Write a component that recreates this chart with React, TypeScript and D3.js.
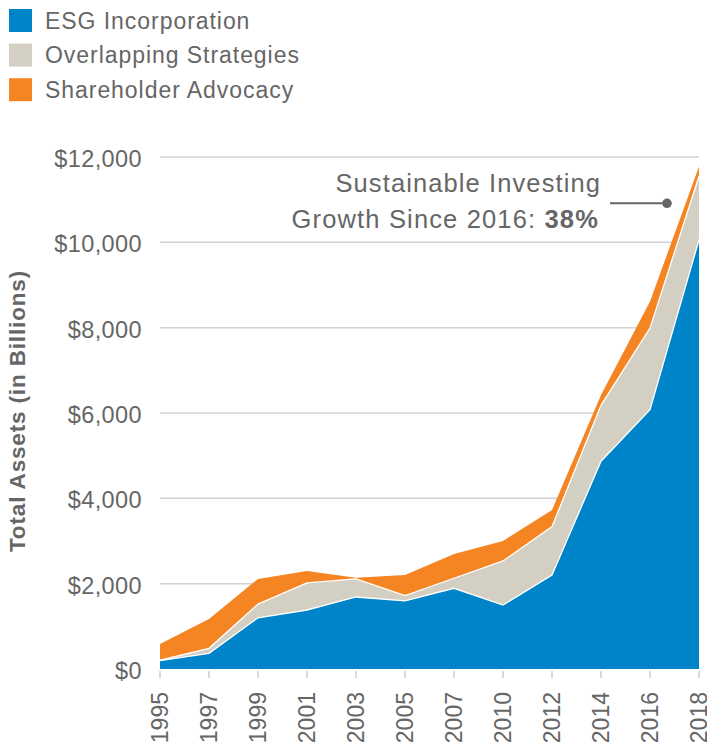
import React from "react";
import * as d3 from "d3";

const years = ["1995","1997","1999","2001","2003","2005","2007","2010","2012","2014","2016","2018"];
const esgIncorporation = [195, 367, 1200, 1383, 1688, 1595, 1892, 1500, 2204, 4870, 6080, 10060];
const overlappingStrategies = [10, 118, 320, 634, 422, 124, 235, 1032, 1133, 1310, 1910, 1490];
const shareholderAdvocacy = [381, 687, 590, 281, 30, 485, 570, 469, 392, 240, 624, 230];
const yTicks = [0, 2000, 4000, 6000, 8000, 10000, 12000];
const seriesNames = ["ESG Incorporation", "Overlapping Strategies", "Shareholder Advocacy"];
const seriesColors = ["#0084C9", "#D3CFC3", "#F58423"];

const W = 707, H = 749;
const FONT = "'Liberation Sans', Arial, Helvetica, sans-serif";
const TXT = "#666666";

export default function App() {
  const x = d3.scalePoint<string>().domain(years).range([160, 699]);
  const y = d3.scaleLinear().domain([0, 12000]).range([669, 157]);

  const keys = ["esg", "overlap", "advocacy"];
  const rows = years.map((yr, i) => ({
    year: yr,
    esg: esgIncorporation[i],
    overlap: overlappingStrategies[i],
    advocacy: shareholderAdvocacy[i],
  }));
  const stacked = d3.stack<any>().keys(keys)(rows);

  const area = d3
    .area<any>()
    .x((d) => x(d.data.year) as number)
    .y0((d) => y(d[0]))
    .y1((d) => y(d[1]));
  const topLine = d3
    .line<any>()
    .x((d) => x(d.data.year) as number)
    .y((d) => y(d[1]));

  const fmt = (v: number) => "$" + d3.format(",")(v);

  return (
    <svg
      width={W}
      height={H}
      style={{ position: "absolute", left: 0, top: 0, background: "#fff" }}
      fontFamily={FONT}
    >
      {/* legend */}
      {seriesNames.map((name, i) => (
        <g key={name} transform={`translate(9, ${9 + i * 34.6})`}>
          <rect width={23} height={23} fill={seriesColors[i]} />
          <text x={36} y={19.5} fontSize={23} fill={TXT} letterSpacing={0.95}>
            {name}
          </text>
        </g>
      ))}

      {/* gridlines */}
      {yTicks.filter((t) => t > 0).map((t) => (
        <line key={t} x1={160} x2={699} y1={y(t)} y2={y(t)} stroke="#D2D2D2" strokeWidth={1.5} />
      ))}

      {/* y tick labels */}
      {yTicks.map((t) => (
        <text
          key={t}
          x={142}
          y={y(t) + 10}
          textAnchor="end"
          fontSize={23.5}
          fill={TXT}
          letterSpacing={0.4}
        >
          {fmt(t)}
        </text>
      ))}

      {/* y axis title */}
      <text
        transform={`translate(25, 411) rotate(-90)`}
        textAnchor="middle"
        fontSize={22.5}
        fontWeight="bold"
        fill={TXT}
        letterSpacing={0.85}
      >
        Total Assets (in Billions)
      </text>

      {/* areas */}
      {stacked.map((s, i) => (
        <path key={keys[i]} d={area(s) as string} fill={seriesColors[i]} />
      ))}
      {stacked.slice(0, 2).map((s, i) => (
        <path key={"l" + i} d={topLine(s) as string} fill="none" stroke="#fff" strokeWidth={1.3} />
      ))}

      {/* x ticks */}
      {years.map((yr) => (
        <line
          key={"t" + yr}
          x1={x(yr)}
          x2={x(yr)}
          y1={671}
          y2={678}
          stroke="#CCCCCC"
          strokeWidth={1.5}
        />
      ))}
      {years.map((yr) => (
        <text
          key={"x" + yr}
          transform={`translate(${(x(yr) as number) + 7.5}, 692) rotate(-90)`}
          textAnchor="end"
          fontSize={23}
          fill={TXT}
        >
          {yr}
        </text>
      ))}

      {/* annotation */}
      <text x={601} y={192} textAnchor="end" fontSize={25.5} fill={TXT} letterSpacing={1.1}>
        Sustainable Investing
      </text>
      <text x={599} y={228} textAnchor="end" fontSize={25.5} fill={TXT} letterSpacing={1.15}>
        Growth Since 2016: <tspan fontWeight="bold">38%</tspan>
      </text>
      <line x1={610} x2={667} y1={203.3} y2={203.3} stroke="#666" strokeWidth={2} />
      <circle cx={667} cy={203.3} r={4.8} fill="#666" />
    </svg>
  );
}
